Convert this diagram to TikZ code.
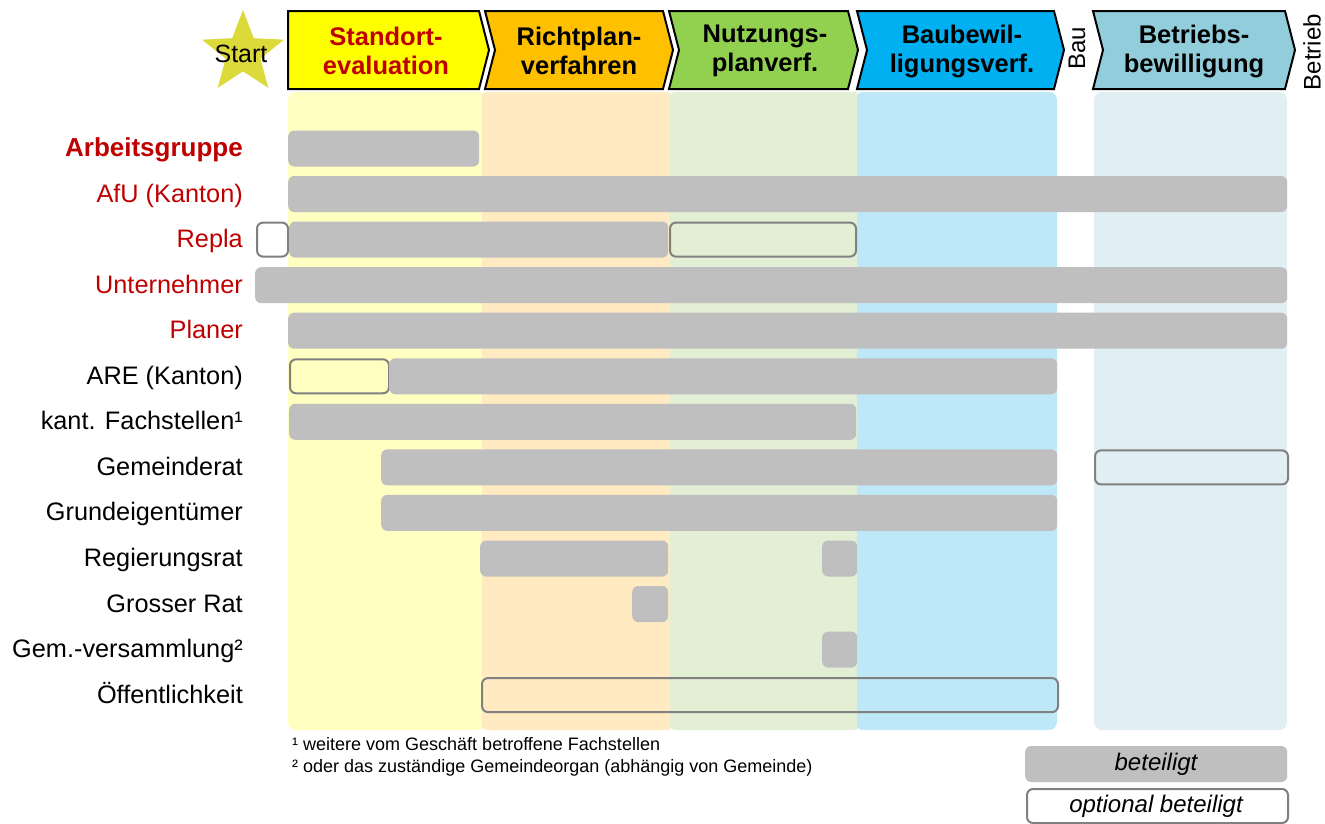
\documentclass[tikz,border=0pt]{standalone}
\usepackage{fontspec}
\setmainfont{Liberation Sans}
\usetikzlibrary{shapes.geometric}
\definecolor{cGray}{HTML}{BFBFBF}
\definecolor{cOpt}{HTML}{808080}
\definecolor{cRed}{HTML}{C00000}
\definecolor{cStar}{HTML}{DCD93A}
\definecolor{cYel}{HTML}{FFFF00}
\definecolor{cOra}{HTML}{FFC000}
\definecolor{cGre}{HTML}{92D050}
\definecolor{cBlu}{HTML}{00B0F0}
\definecolor{cTea}{HTML}{92CDDC}
\definecolor{bYel}{HTML}{FFFFC1}
\definecolor{bOra}{HTML}{FFEAC1}
\definecolor{bGre}{HTML}{E2EFD5}
\definecolor{bBlu}{HTML}{BEE8F8}
\definecolor{bTea}{HTML}{E1EEF4}
\tikzset{
  fullbar/.style={fill=cGray, draw=none, rounded corners=6pt, minimum height=36pt, inner sep=0pt, anchor=west},
  optbar/.style={draw=cOpt, line width=2pt, rounded corners=6pt, minimum height=34pt, inner sep=0pt, anchor=west},
  lbl/.style={anchor=base east, inner sep=0pt, font=\fontsize{25.3}{29}\selectfont},
  redlbl/.style={lbl, text=cRed},
  colbg/.style={draw=none, rounded corners=8pt},
  chev/.style={draw=black, line width=2pt, line join=miter},
  htext/.style={align=center, inner sep=0pt, font=\fontsize{25.5}{29}\selectfont\bfseries},
  rtext/.style={rotate=90, inner sep=0pt, font=\fontsize{24}{28}\selectfont},
  foot/.style={anchor=base west, inner sep=0pt, font=\fontsize{18}{21}\selectfont},
  legtext/.style={inner sep=0pt, font=\fontsize{24}{28}\selectfont\itshape}
}
\newcommand{\fb}[4]{\node[fullbar, minimum width={(#3-#2)*1pt}] (#1) at (#2,#4) {};}
\newcommand{\ob}[4]{\node[optbar, minimum width={(#3-#2-2)*1pt}] (#1) at (#2+1,#4) {};}
\begin{document}
\begin{tikzpicture}[x=1pt,y=-1pt]
\useasboundingbox (0,0) rectangle (1325,823);
\fill[white] (0,0) rectangle (1325,823);
% column backgrounds
\fill[colbg, fill=bYel] (288,92) rectangle (482,730);
\fill[colbg, fill=bOra] (480,92) rectangle (670,730);
\fill[colbg, fill=bGre] (668,92) rectangle (857,730);
\fill[colbg, fill=bBlu] (855,92) rectangle (1057,730);
\fill[colbg, fill=bTea] (1094,92) rectangle (1287,730);
\fill[bYel] (474,92) rectangle (482,730);
\fill[bOra] (662,92) rectangle (670,730);
\fill[bGre] (851,92) rectangle (857,730);
% star
\node[star, star points=5, star point ratio=2.35, minimum size=86pt, fill=cStar, inner sep=0pt] (star) at (243,53) {};
\node[inner sep=0pt, font=\fontsize{25}{29}\selectfont] (starttxt) at (241,54) {Start};
% chevrons
\filldraw[chev, fill=cYel] (288,11) -- (479,11) -- (489,50) -- (479,89) -- (288,89) -- cycle;
\filldraw[chev, fill=cOra] (485,11) -- (663,11) -- (673,50) -- (663,89) -- (485,89) -- (495,50) -- cycle;
\filldraw[chev, fill=cGre] (669,11) -- (848,11) -- (858,50) -- (848,89) -- (669,89) -- (679,50) -- cycle;
\filldraw[chev, fill=cBlu] (857,11) -- (1054,11) -- (1064,50) -- (1054,89) -- (857,89) -- (867,50) -- cycle;
\filldraw[chev, fill=cTea] (1093,11) -- (1285,11) -- (1295,50) -- (1285,89) -- (1093,89) -- (1103,50) -- cycle;
\node[htext, text=cRed] (h1) at (386,51) {Standort-\\evaluation};
\node[htext] (h2) at (579,51) {Richtplan-\\verfahren};
\node[htext] (h3) at (765,51) {Nutzungs-\\planverf.};
\node[htext] (h4) at (962,51) {Baubewil-\\ligungsverf.};
\node[htext] (h5) at (1194,51) {Betriebs-\\bewilligung};
\node[rtext] (bau) at (1077,48) {Bau};
\node[rtext] (betrieb) at (1312,52) {Betrieb};
% labels
\node[redlbl, font=\fontsize{26}{30}\selectfont\bfseries] (l0) at (243,156.5) {Arbeitsgruppe};
\node[redlbl] (l1) at (243,202) {AfU (Kanton)};
\node[redlbl] (l2) at (243,247.6) {Repla};
\node[redlbl] (l3) at (243,293.2) {Unternehmer};
\node[redlbl] (l4) at (243,338.7) {Planer};
\node[lbl] (l5) at (243,384.3) {ARE (Kanton)};
\node[lbl] (l6) at (243,429.8) {kant. Fachstellen¹};
\node[lbl] (l7) at (243,475.4) {Gemeinderat};
\node[lbl] (l8) at (243,520.9) {Grundeigentümer};
\node[lbl] (l9) at (243,566.5) {Regierungsrat};
\node[lbl] (l10) at (243,612) {Grosser Rat};
\node[lbl] (l11) at (243,657.6) {Gem.-versammlung²};
\node[lbl] (l12) at (243,703.1) {Öffentlichkeit};
% bars
\fb{b0}{288}{479}{148.5}
\fb{b1}{288}{1287}{194}
\ob{b2a}{255}{288}{239.6}
\fb{b2b}{289}{668}{239.6}
\ob{b2c}{668}{856}{239.6}
\fb{b3}{255}{1287}{285.2}
\fb{b4}{288}{1287}{330.7}
\ob{b5a}{288}{389}{376.3}
\fb{b5b}{389}{1057}{376.3}
\fb{b6}{289}{856}{421.8}
\fb{b7a}{381}{1057}{467.4}
\ob{b7b}{1093}{1288}{467.4}
\fb{b8}{381}{1057}{512.9}
\fb{b9a}{480}{668}{558.5}
\fb{b9b}{822}{857}{558.5}
\fb{b10}{632}{668}{604}
\fb{b11}{822}{857}{649.6}
\ob{b12}{480}{1058}{695.1}
% footnotes
\node[foot] (f1) at (292,750) {¹ weitere vom Geschäft betroffene Fachstellen};
\node[foot] (f2) at (292,772) {² oder das zuständige Gemeindeorgan (abhängig von Gemeinde)};
% legend
\fb{leg1}{1025}{1287}{764}
\node[legtext] (leg1t) at (1156,764) {beteiligt};
\ob{leg2}{1025}{1288}{806}
\node[legtext] (leg2t) at (1156,806) {optional beteiligt};
\end{tikzpicture}
\end{document}
